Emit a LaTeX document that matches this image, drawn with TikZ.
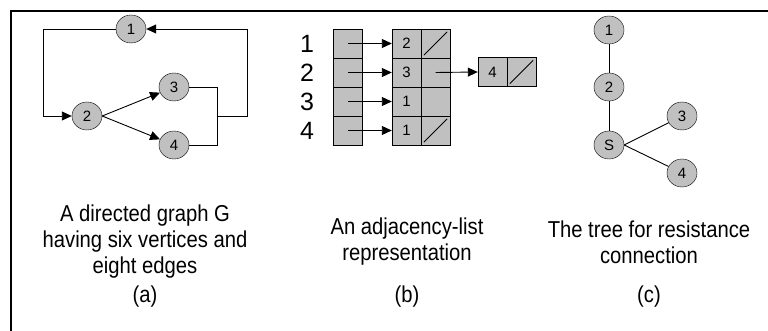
\documentclass[tikz,border=0pt]{standalone}
\usepackage{fontspec}
\setmainfont{Liberation Sans}
\newfontfamily\capfont[FakeStretch=0.88]{Liberation Sans}
\usetikzlibrary{arrows.meta,shapes.geometric,calc}
\definecolor{cellgray}{HTML}{C0C0C0}
\begin{document}
\begin{tikzpicture}[x=1pt,y=-1pt,
  vert/.style={ellipse,draw,fill=cellgray,minimum width=30pt,minimum height=28pt,inner sep=0pt,font=\fontsize{15}{15}\selectfont},
  cell/.style={rectangle,draw,fill=cellgray,minimum width=29pt,minimum height=29pt,inner sep=0pt,font=\fontsize{15}{15}\selectfont},
  rowlabel/.style={font=\fontsize{25}{25}\selectfont},
  caption/.style={align=center,font=\capfont\fontsize{23}{26}\selectfont},
  tag/.style={font=\capfont\fontsize{23}{23}\selectfont},
  arr/.style={-{Triangle[length=10pt,width=9pt]}},
  edge/.style={line width=0.9pt},
  nulptr/.style={line width=0.8pt}
]
\useasboundingbox (0,0) rectangle (768,331);

% frame: top rule and left rule
\coordinate (ftl) at (11,11);
\coordinate (ftr) at (768,11);
\coordinate (fbl) at (11,331);
\draw[line width=2pt] (ftr) -- (ftl) -- (fbl);

% ---------- (a) directed graph ----------
\node[vert] (a1) at (131,29) {1};
\node[vert] (a2) at (87,116) {2};
\node[vert] (a3) at (174,87) {3};
\node[vert] (a4) at (174,145) {4};
\coordinate (lt) at (43,29);
\coordinate (lb) at (43,116);
\coordinate (r3) at (217,87);
\coordinate (r4) at (217,145);
\coordinate (rm) at (217,116);
\coordinate (ro) at (247,116);
\coordinate (rt) at (247,29);
\draw[edge,arr] (a1.west) -- (lt) -- (lb) -- (a2.west);
\draw[edge,arr] (a2.east) -- (a3);
\draw[edge,arr] (a2.east) -- (a4);
\draw[edge] (a3.east) -- (r3) -- (r4) -- (a4.east);
\draw[edge,arr] (rm) -- (ro) -- (rt) -- (a1.east);

% ---------- (b) adjacency list ----------
\foreach \i/\y in {1/43.5,2/72.5,3/101.5,4/130.5}{
  \node[rowlabel] (lab\i) at (307,\y) {\i};
  \node[cell] (h\i) at (348,\y) {};
}
\node[cell] (v1) at (406.5,43.5) {2};
\node[cell] (p1) at (435.5,43.5) {};
\node[cell] (v2) at (406.5,72.5) {3};
\node[cell] (p2) at (435.5,72.5) {};
\node[cell] (v3) at (406.5,101.5) {1};
\node[cell] (p3) at (435.5,101.5) {};
\node[cell] (v4) at (406.5,130.5) {1};
\node[cell] (p4) at (435.5,130.5) {};
\node[cell] (w1) at (492.5,72) {4};
\node[cell] (q1) at (521.5,72) {};
\foreach \c in {p1,p4,q1}{
  \draw[nulptr] ($(\c.south west)+(3,-3)$) -- ($(\c.north east)+(-3,3)$);
}
\foreach \i in {1,2,3,4}{
  \draw[edge,arr] (h\i.center) -- (v\i.west);
}
\draw[edge,arr] (p2.center) -- (w1.west);

% ---------- (c) tree ----------
\node[vert] (c1) at (609,30) {1};
\node[vert] (c2) at (609,87) {2};
\node[vert] (cs) at (609,145) {S};
\node[vert] (c3) at (682,116) {3};
\node[vert] (c4) at (682,173) {4};
\draw[edge] (c1) -- (c2);
\draw[edge] (c2) -- (cs);
\draw[edge] (cs.east) -- (c3);
\draw[edge] (cs.east) -- (c4);

% ---------- captions ----------
\node[caption] (capa) at (145,242) {A directed graph G\\having six vertices and\\eight edges};
\node[caption] (capb) at (407,242) {An adjacency-list\\representation};
\node[caption] (capc) at (649,242) {The tree for resistance\\connection};
\node[tag] (ta) at (145,297) {(a)};
\node[tag] (tb) at (407,297) {(b)};
\node[tag] (tc) at (649,297) {(c)};
\end{tikzpicture}
\end{document}
